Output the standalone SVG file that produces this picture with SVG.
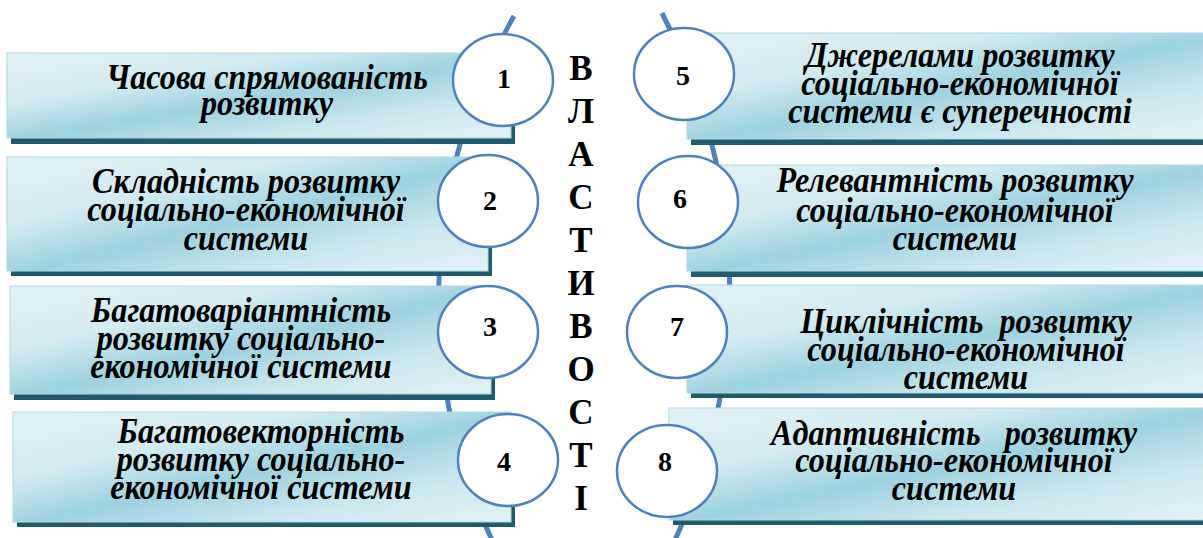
<svg xmlns="http://www.w3.org/2000/svg" width="1203" height="538" viewBox="0 0 1203 538">
<defs>
<linearGradient id="g" x1="0" y1="0" x2="1" y2="1">
<stop offset="0" stop-color="#e1f1f6"/>
<stop offset="0.3" stop-color="#d3ebf1"/>
<stop offset="0.52" stop-color="#9dd2df"/>
<stop offset="0.75" stop-color="#cbe7ee"/>
<stop offset="1" stop-color="#e3f2f6"/>
</linearGradient>
</defs>
<style>
.box{fill:url(#g);stroke:#abdae6;stroke-width:1}
.sh{fill:#215b6b}
.arc{fill:none;stroke:#4f81bd;stroke-width:5}
.c{fill:#fff;stroke:#4f81bd;stroke-width:2.5}
.t{font-family:"Liberation Serif","Times New Roman",serif;font-weight:bold;font-style:italic;font-size:35px;text-anchor:middle;fill:#000}
.n{font-family:"Liberation Serif","Times New Roman",serif;font-weight:bold;font-size:28px;text-anchor:middle;fill:#000}
.v{font-family:"Liberation Serif","Times New Roman",serif;font-weight:bold;font-size:35px;text-anchor:middle;fill:#000}
</style>
<rect width="1203" height="538" fill="#fff"/>
<g id="connectors">
<path class="arc" d="M514 16 A570 570 0 0 0 492 540"/>
<path class="arc" d="M662 13 A600 600 0 0 1 675 540"/>
</g>
<g id="node1">
<rect class="sh" x="11" y="58" width="504" height="86"/>
<rect class="box" x="7" y="53" width="504" height="85"/>
<g transform="translate(267 0) scale(0.92 1)">
<text class="t" x="0" y="89">Часова спрямованість</text>
<text class="t" x="0" y="115">розвитку</text>
</g>
<ellipse class="c" cx="503" cy="80" rx="50" ry="46"/>
<text class="n" x="504" y="88">1</text>
</g>
<g id="node2">
<rect class="sh" x="11" y="162" width="481" height="114"/>
<rect class="box" x="7" y="157" width="481" height="114"/>
<g transform="translate(246 0) scale(0.92 1)">
<text class="t" x="0" y="193">Складність розвитку</text>
<text class="t" x="0" y="221">соціально-економічної</text>
<text class="t" x="0" y="250">системи</text>
</g>
<ellipse class="c" cx="488" cy="201" rx="50" ry="46"/>
<text class="n" x="490" y="210">2</text>
</g>
<g id="node3">
<rect class="sh" x="14" y="292" width="481" height="108"/>
<rect class="box" x="10" y="286" width="481" height="108"/>
<g transform="translate(241 0) scale(0.92 1)">
<text class="t" x="0" y="322">Багатоваріантність</text>
<text class="t" x="0" y="350">розвитку соціально-</text>
<text class="t" x="0" y="378">економічної системи</text>
</g>
<ellipse class="c" cx="488" cy="332" rx="50" ry="46"/>
<text class="n" x="490" y="336">3</text>
</g>
<g id="node4">
<rect class="sh" x="17" y="417" width="498" height="110"/>
<rect class="box" x="13" y="412" width="498" height="110"/>
<g transform="translate(261 0) scale(0.92 1)">
<text class="t" x="0" y="443">Багатовекторність</text>
<text class="t" x="0" y="471">розвитку соціально-</text>
<text class="t" x="0" y="499">економічної системи</text>
</g>
<ellipse class="c" cx="508" cy="460" rx="50" ry="46"/>
<text class="n" x="504" y="471">4</text>
</g>
<g id="node5">
<rect class="sh" x="691" y="39" width="520" height="106"/>
<rect class="box" x="687" y="33" width="520" height="106"/>
<g transform="translate(960 0) scale(0.92 1)">
<text class="t" x="0" y="67">Джерелами розвитку</text>
<text class="t" x="0" y="95">соціально-економічної</text>
<text class="t" x="0" y="123">системи є суперечності</text>
</g>
<ellipse class="c" cx="684" cy="74" rx="50" ry="46"/>
<text class="n" x="683" y="85">5</text>
</g>
<g id="node6">
<rect class="sh" x="691" y="171" width="520" height="106"/>
<rect class="box" x="687" y="165" width="520" height="106"/>
<g transform="translate(955 0) scale(0.92 1)">
<text class="t" x="0" y="192">Релевантність розвитку</text>
<text class="t" x="0" y="222">соціально-економічної</text>
<text class="t" x="0" y="250">системи</text>
</g>
<ellipse class="c" cx="688" cy="202" rx="50" ry="46"/>
<text class="n" x="680" y="208">6</text>
</g>
<g id="node7">
<rect class="sh" x="691" y="290" width="520" height="108"/>
<rect class="box" x="687" y="285" width="520" height="108"/>
<g transform="translate(966 0) scale(0.92 1)">
<text class="t" x="0" y="333" xml:space="preserve">Циклічність  розвитку</text>
<text class="t" x="0" y="361">соціально-економічної</text>
<text class="t" x="0" y="389">системи</text>
</g>
<ellipse class="c" cx="677" cy="332" rx="50" ry="46"/>
<text class="n" x="677" y="336">7</text>
</g>
<g id="node8">
<rect class="sh" x="673" y="413" width="538" height="112"/>
<rect class="box" x="669" y="408" width="538" height="112"/>
<g transform="translate(954 0) scale(0.92 1)">
<text class="t" x="0" y="445" xml:space="preserve">Адаптивність   розвитку</text>
<text class="t" x="0" y="472">соціально-економічної</text>
<text class="t" x="0" y="500">системи</text>
</g>
<ellipse class="c" cx="667" cy="471" rx="50" ry="46"/>
<text class="n" x="665" y="471">8</text>
</g>
<g id="title">
<text class="v" x="581" y="80">В</text>
<text class="v" x="581" y="123">Л</text>
<text class="v" x="581" y="166">А</text>
<text class="v" x="581" y="209">С</text>
<text class="v" x="581" y="252">Т</text>
<text class="v" x="581" y="295">И</text>
<text class="v" x="581" y="338">В</text>
<text class="v" x="581" y="381">О</text>
<text class="v" x="581" y="424">С</text>
<text class="v" x="581" y="467">Т</text>
<text class="v" x="581" y="510">І</text>
</g>
</svg>
